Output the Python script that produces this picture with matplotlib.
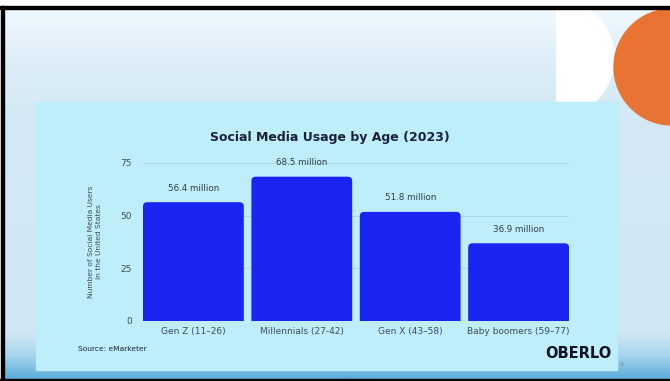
#!/usr/bin/env python

"""
Social media usage by age group (2023), drawn as it appears on a slide.
"""

import numpy as np
import matplotlib.pyplot as plt
import matplotlib.colors as mcolors
from matplotlib.patches import Rectangle, FancyBboxPatch, Circle, Ellipse

# data
generations = ['Gen Z (11–26)', 'Millennials (27-42)', 'Gen X (43–58)', 'Baby boomers (59–77)']
users_millions = [56.4, 68.5, 51.8, 36.9]
yticks = [0, 25, 50, 75]

title = 'Social Media Usage by Age (2023)'
ylabel = 'Number of Social Media Users\nin the United States'
source = 'Source: eMarketer'

bar_color = '#1b25f3'
panel_color = '#bdeefa'
text_dark = '#1b2238'
text_gray = '#3f4a5a'

W, H = 670, 381
fig = plt.figure(figsize=(W / 100, H / 100), dpi=100)
fig.patch.set_facecolor('white')

# slide background in pixel coordinates
bg = fig.add_axes([0, 0, 1, 1])
bg.set_xlim(0, W)
bg.set_ylim(H, 0)
bg.axis('off')

# vertical gradient of the slide
stops = [(0.0, '#eff8fe'), (0.15, '#dcedf8'), (0.3, '#d4e9f5'), (0.88, '#d0e7f4'),
         (0.94, '#a6d5ee'), (1.0, '#5eaedb')]
cmap = mcolors.LinearSegmentedColormap.from_list('slide', stops)
grad = np.linspace(0, 1, 300).reshape(-1, 1)
bg.imshow(grad, cmap=cmap, aspect='auto', extent=(4, W, 379, 9), zorder=0)

# black frame
bg.add_patch(Rectangle((0, 6), W, 3, color='black', zorder=5))
bg.add_patch(Rectangle((1, 6), 3, H, color='black', zorder=5))
bg.add_patch(Rectangle((0, 379), W, 3, color='black', zorder=5))

# white D shape (half ellipse, flat on the left) and orange circle at top right
dshape = Ellipse((558, 58), 112, 116, color='white', zorder=1)
bg.add_patch(dshape)
clip = Rectangle((556, 9), 80, 93, transform=bg.transData)
dshape.set_clip_path(clip)
bg.add_patch(Circle((672, 67), 58, color='#e87332', zorder=3))

# chart panel
bg.add_patch(Rectangle((36, 102), 581, 268, color=panel_color, zorder=2))

# chart
ax = fig.add_axes([143 / W, 1 - 321 / H, 426 / W, 158 / H])
ax.set_facecolor('none')
x = np.arange(len(generations))
bars = ax.bar(x, users_millions, width=0.93, color=bar_color, zorder=2)

# replace the bars with rounded-top versions
for b in bars:
    b.set_visible(False)
    rb = FancyBboxPatch((b.get_x(), -5), b.get_width(), b.get_height() + 5,
                        boxstyle='round,pad=0,rounding_size=0.04',
                        mutation_aspect=51, facecolor=bar_color,
                        edgecolor='none', zorder=2)
    ax.add_patch(rb)

for xi, v in zip(x, users_millions):
    ax.text(xi, v + 4.5, f'{v} million', ha='center', va='bottom',
            fontsize=6.3, color='#333b48')

ax.set_xlim(-0.465, len(generations) - 0.535)
ax.set_ylim(0, 75)
ax.set_yticks(yticks)
ax.set_xticks(x)
ax.set_xticklabels(generations)
ax.tick_params(axis='both', length=0, labelsize=6.5, colors=text_gray)
ax.tick_params(axis='y', pad=8)
ax.tick_params(axis='x', pad=4)
ax.grid(axis='y', color='#a3d6e6', lw=0.6, zorder=0)
ax.set_axisbelow(True)
for s in ax.spines.values():
    s.set_visible(False)

ax.set_ylabel(ylabel, fontsize=5.4, color=text_gray, linespacing=1.3)
ax.yaxis.set_label_coords(-0.097, 0.5)

fig.text(330 / W, 1 - 138 / H, title, ha='center', va='center',
         fontsize=9, fontweight='bold', color=text_dark)
fig.text(78 / W, 1 - 349 / H, source, ha='left', va='center',
         fontsize=5.4, color=text_dark)
fig.text(612 / W, 1 - 353 / H, 'OBERLO', ha='right', va='center',
         fontsize=10.5, fontweight='heavy', color='#111322')
fig.text(620 / W, 1 - 365 / H, '9', ha='left', va='center',
         fontsize=4.5, color='#7d8a98', zorder=10)

plt.savefig('out.png', dpi=100)
plt.close()
